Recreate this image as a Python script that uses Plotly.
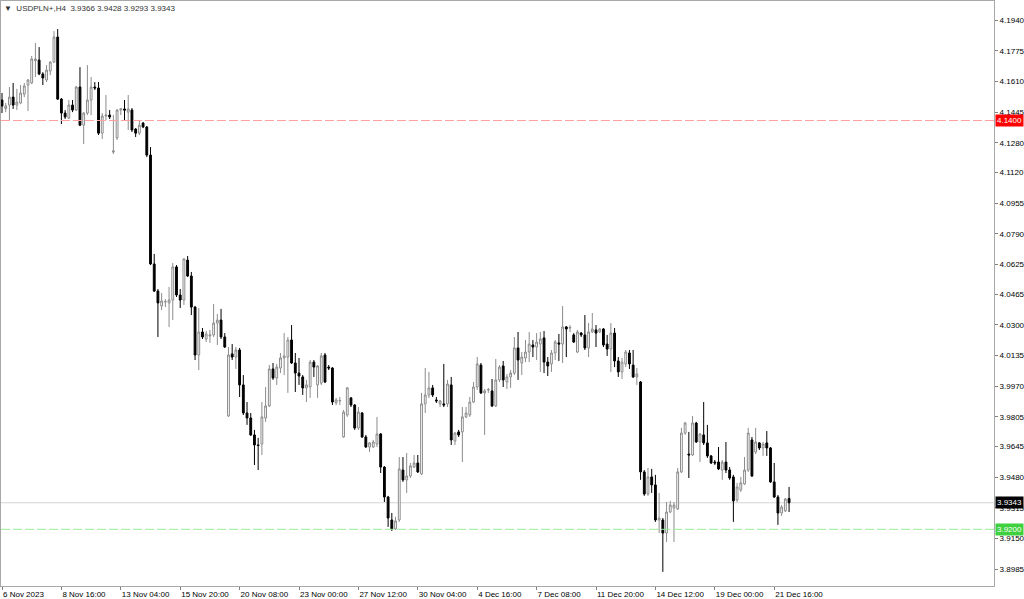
import plotly.graph_objects as go

symbol = "USDPLN+,H4"

open_ = [
    4.1510, 4.1464, 4.1483, 4.1526, 4.1483, 4.1494, 4.1542, 4.1591, 4.1602, 4.1722,
    4.1725, 4.1650, 4.1618, 4.1666, 4.1714, 4.1849, 4.1515, 4.1440, 4.1413, 4.1483,
    4.1456, 4.1580, 4.1375, 4.1440, 4.1510, 4.1580, 4.1575, 4.1332, 4.1424, 4.1429,
    4.1230, 4.1306, 4.1456, 4.1462, 4.1445, 4.1456, 4.1354, 4.1332, 4.1386, 4.1365,
    4.1214, 4.0628, 4.0482, 4.0402, 4.0423, 4.0418, 4.0434, 4.0612, 4.0461, 4.0434,
    4.0649, 4.0563, 4.0396, 4.0138, 4.0262, 4.0224, 4.0240, 4.0246, 4.0310, 4.0326,
    4.0235, 3.9810, 4.0144, 4.0127, 4.0165, 3.9977, 3.9826, 3.9799, 3.9708, 3.9654,
    3.9659, 3.9799, 3.9864, 4.0063, 4.0014, 4.0068, 4.0122, 4.0127, 4.0219, 4.0095,
    4.0041, 4.0020, 3.9961, 3.9966, 4.0100, 3.9977, 3.9987, 4.0138, 4.0073, 4.0068,
    3.9880, 3.9891, 3.9697, 3.9815, 3.9907, 3.9869, 3.9745, 3.9826, 3.9697, 3.9643,
    3.9643, 3.9659, 3.9713, 3.9535, 3.9374, 3.9250, 3.9202, 3.9250, 3.9519, 3.9466,
    3.9487, 3.9535, 3.9557, 3.9498, 3.9875, 3.9923, 3.9961, 3.9896, 3.9875, 3.9875,
    3.9875, 3.9977, 3.9675, 3.9724, 3.9724, 3.9805, 3.9815, 3.9885, 3.9966, 4.0084,
    3.9934, 3.9950, 3.9945, 3.9864, 4.0004, 4.0079, 3.9993, 4.0020, 4.0041, 4.0176,
    4.0095, 4.0122, 4.0154, 4.0192, 4.0181, 4.0197, 4.0230, 4.0100, 4.0090, 4.0149,
    4.0203, 4.0197, 4.0289, 4.0283, 4.0246, 4.0154, 4.0256, 4.0246, 4.0176, 4.0262,
    4.0273, 4.0262, 4.0278, 4.0197, 4.0170, 4.0256, 4.0106, 4.0047, 4.0090, 4.0149,
    4.0084, 4.0020, 3.9993, 3.9509, 3.9390, 3.9482, 3.9439, 3.9250, 3.9250, 3.9180,
    3.9293, 3.9315, 3.9310, 3.9509, 3.9718, 3.9605, 3.9600, 3.9772, 3.9670, 3.9708,
    3.9665, 3.9595, 3.9562, 3.9562, 3.9519, 3.9562, 3.9519, 3.9482, 3.9358, 3.9412,
    3.9444, 3.9519, 3.9681, 3.9616, 3.9665, 3.9638, 3.9665, 3.9638, 3.9455, 3.9374,
    3.9288, 3.9299, 3.9366,
]

high = [
    4.1548, 4.1494, 4.1580, 4.1602, 4.1570, 4.1591, 4.1602, 4.1623, 4.1747, 4.1817,
    4.1795, 4.1660, 4.1698, 4.1720, 4.1881, 4.1892, 4.1521, 4.1456, 4.1510, 4.1510,
    4.1586, 4.1687, 4.1445, 4.1698, 4.1634, 4.1607, 4.1607, 4.1440, 4.1537, 4.1456,
    4.1429, 4.1462, 4.1467, 4.1510, 4.1537, 4.1467, 4.1359, 4.1402, 4.1392, 4.1370,
    4.1257, 4.0682, 4.0493, 4.0472, 4.0439, 4.0504, 4.0633, 4.0622, 4.0493, 4.0660,
    4.0671, 4.0585, 4.0402, 4.0391, 4.0283, 4.0267, 4.0273, 4.0412, 4.0359, 4.0386,
    4.0256, 4.0181, 4.0197, 4.0181, 4.0176, 4.0030, 3.9885, 3.9826, 3.9735, 3.9692,
    3.9885, 3.9966, 4.0084, 4.0095, 4.0090, 4.0149, 4.0256, 4.0235, 4.0299, 4.0149,
    4.0122, 4.0030, 4.0004, 4.0111, 4.0111, 4.0084, 4.0149, 4.0149, 4.0084, 4.0073,
    3.9907, 3.9912, 3.9842, 3.9966, 3.9912, 3.9874, 3.9858, 3.9831, 3.9708, 3.9670,
    3.9681, 3.9805, 3.9718, 3.9540, 3.9380, 3.9288, 3.9267, 3.9589, 3.9589, 3.9611,
    3.9557, 3.9600, 3.9600, 3.9934, 4.0068, 4.0047, 3.9977, 3.9912, 3.9896, 4.0090,
    4.0004, 4.0020, 3.9724, 3.9735, 3.9858, 3.9858, 3.9912, 3.9993, 4.0127, 4.0095,
    3.9955, 3.9961, 4.0009, 4.0117, 4.0084, 4.0106, 4.0036, 4.0057, 4.0235, 4.0262,
    4.0154, 4.0219, 4.0262, 4.0219, 4.0256, 4.0262, 4.0267, 4.0127, 4.0165, 4.0219,
    4.0251, 4.0402, 4.0294, 4.0299, 4.0256, 4.0273, 4.0262, 4.0353, 4.0310, 4.0364,
    4.0299, 4.0283, 4.0283, 4.0246, 4.0310, 4.0283, 4.0127, 4.0122, 4.0165, 4.0165,
    4.0165, 4.0068, 3.9998, 3.9519, 3.9530, 3.9525, 3.9493, 3.9396, 3.9261, 3.9347,
    3.9353, 3.9347, 3.9530, 3.9746, 3.9778, 3.9724, 3.9810, 3.9778, 3.9718, 3.9885,
    3.9762, 3.9600, 3.9573, 3.9643, 3.9573, 3.9670, 3.9535, 3.9493, 3.9450, 3.9482,
    3.9589, 3.9746, 3.9697, 3.9746, 3.9670, 3.9670, 3.9729, 3.9643, 3.9557, 3.9385,
    3.9331, 3.9369, 3.9428,
]

low = [
    4.1440, 4.1445, 4.1402, 4.1462, 4.1456, 4.1488, 4.1526, 4.1451, 4.1596, 4.1634,
    4.1644, 4.1591, 4.1607, 4.1644, 4.1709, 4.1510, 4.1381, 4.1408, 4.1408, 4.1445,
    4.1451, 4.1370, 4.1273, 4.1429, 4.1429, 4.1564, 4.1322, 4.1300, 4.1402, 4.1408,
    4.1220, 4.1295, 4.1429, 4.1402, 4.1349, 4.1338, 4.1311, 4.1322, 4.1359, 4.1203,
    4.0622, 4.0477, 4.0235, 4.0380, 4.0396, 4.0289, 4.0326, 4.0450, 4.0391, 4.0407,
    4.0558, 4.0353, 4.0111, 4.0057, 4.0224, 4.0208, 4.0203, 4.0235, 4.0192, 4.0224,
    4.0176, 3.9805, 4.0111, 4.0063, 3.9912, 3.9815, 3.9762, 3.9702, 3.9546, 3.9519,
    3.9600, 3.9778, 3.9858, 4.0004, 3.9977, 4.0041, 4.0030, 3.9934, 4.0090, 3.9939,
    3.9977, 3.9923, 3.9885, 3.9907, 4.0020, 3.9907, 3.9977, 3.9987, 4.0057, 3.9869,
    3.9869, 3.9869, 3.9692, 3.9805, 3.9858, 3.9735, 3.9735, 3.9692, 3.9638, 3.9616,
    3.9638, 3.9643, 3.9503, 3.9347, 3.9213, 3.9191, 3.9197, 3.9240, 3.9455, 3.9396,
    3.9476, 3.9530, 3.9503, 3.9492, 3.9826, 3.9907, 3.9912, 3.9880, 3.9858, 3.9858,
    3.9858, 3.9654, 3.9654, 3.9697, 3.9562, 3.9799, 3.9805, 3.9880, 3.9950, 3.9928,
    3.9708, 3.9934, 3.9858, 3.9858, 3.9993, 3.9966, 3.9955, 3.9961, 4.0030, 4.0004,
    4.0030, 4.0100, 4.0100, 4.0127, 4.0111, 4.0047, 4.0041, 4.0025, 4.0047, 4.0111,
    4.0106, 4.0095, 4.0127, 4.0262, 4.0203, 4.0149, 4.0235, 4.0165, 4.0127, 4.0256,
    4.0181, 4.0256, 4.0181, 4.0133, 4.0047, 4.0073, 4.0020, 4.0009, 4.0073, 4.0063,
    4.0014, 3.9977, 3.9466, 3.9380, 3.9380, 3.9396, 3.9240, 3.9180, 3.8971, 3.9132,
    3.9288, 3.9132, 3.9304, 3.9503, 3.9708, 3.9476, 3.9595, 3.9665, 3.9562, 3.9654,
    3.9584, 3.9552, 3.9546, 3.9519, 3.9466, 3.9503, 3.9466, 3.9240, 3.9347, 3.9401,
    3.9439, 3.9509, 3.9482, 3.9605, 3.9627, 3.9595, 3.9595, 3.9450, 3.9369, 3.9224,
    3.9272, 3.9293, 3.9293,
]

close = [
    4.1478, 4.1478, 4.1526, 4.1483, 4.1499, 4.1548, 4.1586, 4.1618, 4.1731, 4.1731,
    4.1650, 4.1629, 4.1671, 4.1714, 4.1849, 4.1515, 4.1440, 4.1419, 4.1483, 4.1456,
    4.1580, 4.1375, 4.1440, 4.1510, 4.1580, 4.1575, 4.1332, 4.1424, 4.1429, 4.1419,
    4.1236, 4.1456, 4.1462, 4.1456, 4.1462, 4.1349, 4.1332, 4.1375, 4.1365, 4.1214,
    4.0628, 4.0482, 4.0418, 4.0429, 4.0426, 4.0434, 4.0612, 4.0461, 4.0434, 4.0655,
    4.0563, 4.0396, 4.0138, 4.0262, 4.0235, 4.0251, 4.0246, 4.0310, 4.0326, 4.0235,
    4.0181, 4.0138, 4.0127, 4.0165, 3.9977, 3.9826, 3.9799, 3.9708, 3.9654, 3.9651,
    3.9805, 3.9864, 4.0063, 4.0014, 4.0073, 4.0122, 4.0133, 4.0219, 4.0095, 4.0041,
    4.0025, 3.9961, 3.9977, 4.0100, 4.0073, 4.0079, 4.0133, 3.9993, 4.0068, 3.9885,
    3.9896, 3.9893, 3.9831, 3.9961, 3.9869, 3.9745, 3.9831, 3.9697, 3.9643, 3.9665,
    3.9670, 3.9713, 3.9535, 3.9374, 3.9261, 3.9202, 3.9245, 3.9525, 3.9466, 3.9487,
    3.9541, 3.9557, 3.9509, 3.9875, 3.9923, 3.9961, 3.9923, 3.9891, 3.9891, 3.9869,
    3.9982, 3.9681, 3.9718, 3.9708, 3.9805, 3.9826, 3.9885, 3.9966, 4.0090, 3.9934,
    3.9945, 3.9952, 3.9864, 4.0004, 4.0073, 4.0004, 4.0020, 4.0041, 4.0176, 4.0111,
    4.0127, 4.0154, 4.0197, 4.0181, 4.0208, 4.0224, 4.0100, 4.0079, 4.0149, 4.0208,
    4.0197, 4.0289, 4.0278, 4.0286, 4.0208, 4.0262, 4.0246, 4.0176, 4.0262, 4.0278,
    4.0256, 4.0278, 4.0192, 4.0170, 4.0256, 4.0106, 4.0047, 4.0100, 4.0154, 4.0090,
    4.0020, 4.0036, 3.9509, 3.9390, 3.9482, 3.9439, 3.9250, 3.9261, 3.9180, 3.9293,
    3.9331, 3.9331, 3.9509, 3.9718, 3.9772, 3.9600, 3.9772, 3.9670, 3.9713, 3.9665,
    3.9595, 3.9557, 3.9557, 3.9525, 3.9562, 3.9519, 3.9476, 3.9353, 3.9428, 3.9450,
    3.9519, 3.9718, 3.9487, 3.9670, 3.9638, 3.9659, 3.9638, 3.9455, 3.9374, 3.9288,
    3.9320, 3.9363, 3.9343,
]

time_labels = [
    "6 Nov 2023", "8 Nov 16:00", "13 Nov 04:00", "15 Nov 20:00", "20 Nov 08:00",
    "23 Nov 00:00", "27 Nov 12:00", "30 Nov 04:00", "4 Dec 16:00", "7 Dec 08:00",
    "11 Dec 20:00", "14 Dec 12:00", "19 Dec 00:00", "21 Dec 16:00",
]
bars_per_label = 16

price_ticks = [
    4.1940, 4.1775, 4.1610, 4.1445, 4.1280, 4.1120, 4.0955, 4.0790, 4.0625, 4.0465,
    4.0300, 4.0135, 3.9970, 3.9805, 3.9645, 3.9480, 3.9315, 3.9150, 3.8985,
]

resistance_level = 4.1400
support_level = 3.9200

n = len(close)
bar_index = list(range(n))
tick_index = [k * bars_per_label for k in range(len(time_labels))]

FONT = "Liberation Sans, Arial, sans-serif"

fig = go.Figure()
fig.add_trace(go.Candlestick(
    x=bar_index, open=open_, high=high, low=low, close=close,
    increasing=dict(line=dict(color="#8c8c8c", width=1), fillcolor="#ffffff"),
    decreasing=dict(line=dict(color="#000000", width=1), fillcolor="#000000"),
    whiskerwidth=0, hoverinfo="skip", showlegend=False,
))

last_price = close[-1]

fig.add_hline(y=last_price, line=dict(color="#d4d4d4", width=1), layer="below")
fig.add_hline(y=resistance_level, line=dict(color="#ffa0a0", width=1, dash="9px,3px"))
fig.add_hline(y=support_level, line=dict(color="#98ec98", width=1, dash="9px,3px"))

def price_tag(value, bg):
    fig.add_annotation(
        xref="paper", x=1, xanchor="left", xshift=1,
        yref="y", y=value, yanchor="middle",
        text=f"{value:.4f}", showarrow=False,
        font=dict(family=FONT, size=8, color="#ffffff"),
        bgcolor=bg, borderpad=1,
    )

price_tag(resistance_level, "#ff0000")
price_tag(support_level, "#3fd03f")
price_tag(last_price, "#000000")

header = (f"▼&nbsp;&nbsp;{symbol}&nbsp;&nbsp;{open_[-1]:.4f} {high[-1]:.4f} "
          f"{low[-1]:.4f} {close[-1]:.4f}")
fig.add_annotation(
    xref="paper", x=0, xanchor="left", xshift=1,
    yref="paper", y=1, yanchor="top", yshift=-1,
    text=header, showarrow=False,
    font=dict(family=FONT, size=8, color="#333333"),
)

fig.update_layout(
    width=1024, height=599,
    margin=dict(l=1, r=30, t=1, b=13),
    paper_bgcolor="#ffffff", plot_bgcolor="#ffffff",
    showlegend=False,
    font=dict(family=FONT, size=8, color="#000000"),
    xaxis=dict(
        type="linear", range=[-0.27, 267.2],
        tickvals=tick_index, ticktext=time_labels,
        ticks="outside", ticklen=3, tickcolor="#808080",
        ticklabelposition="outside right",
        tickfont=dict(family=FONT, size=8, color="#000000"),
        showgrid=False, zeroline=False,
        showline=True, mirror=True, linecolor="#a8a8a8", linewidth=1,
        rangeslider=dict(visible=False), fixedrange=True, automargin=False,
    ),
    yaxis=dict(
        side="right", range=[3.8895, 4.2043],
        tickvals=price_ticks, ticktext=[f"{v:.4f}" for v in price_ticks],
        ticks="outside", ticklen=3, tickcolor="#808080",
        tickfont=dict(family=FONT, size=8, color="#000000"),
        showgrid=False, zeroline=False,
        showline=True, mirror=True, linecolor="#a8a8a8", linewidth=1,
        fixedrange=True, automargin=False,
    ),
)

fig.write_html(
    "out.html",
    config={"displayModeBar": False},
    post_script="document.body.style.margin='0';document.body.style.overflow='hidden';",
)
